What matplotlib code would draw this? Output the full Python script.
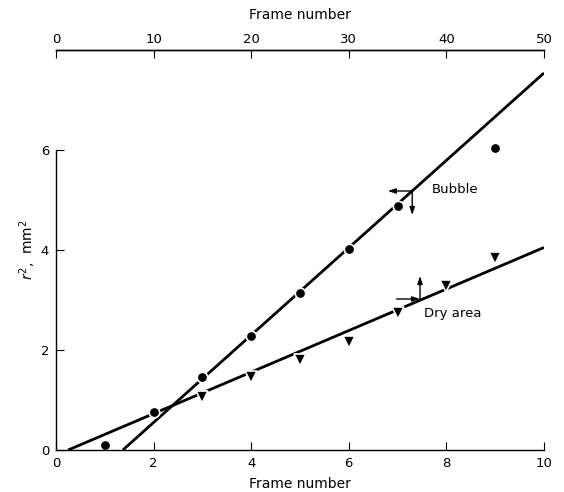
import matplotlib
matplotlib.use("Agg")
import matplotlib.pyplot as plt

# measured points
bubble_x = [1, 2, 3, 4, 5, 6, 7, 9]
bubble_r2 = [0.10, 0.76, 1.46, 2.28, 3.13, 4.02, 4.88, 6.04]
dry_x = [3, 4, 5, 6, 7, 8, 9]
dry_r2 = [1.06, 1.46, 1.80, 2.16, 2.74, 3.28, 3.84]

# fitted straight lines (end points)
bubble_fit_x = [1.37, 10]
bubble_fit_y = [0.0, 7.54]
dry_fit_x = [0.25, 10]
dry_fit_y = [0.0, 4.05]

bottom_ticks = [0, 2, 4, 6, 8, 10]
top_ticks = [0, 10, 20, 30, 40, 50]
y_ticks = [0, 2, 4, 6]

plt.rcParams['font.family'] = ['DejaVu Sans']
fig = plt.figure(figsize=(5.64, 4.92), dpi=100)
ax = fig.add_axes([0.0993, 0.0854, 0.8652, 0.8130])

ax.plot(bubble_fit_x, bubble_fit_y, color="black", lw=2.0, solid_capstyle="butt")
ax.plot(dry_fit_x, dry_fit_y, color="black", lw=2.0, solid_capstyle="butt")
ax.plot(bubble_x, bubble_r2, "o", color="black", ms=7.5, mec="white", mew=1.2, clip_on=False)
ax.plot(dry_x, dry_r2, "v", color="black", ms=9, mec="white", mew=1.2, clip_on=False)

# axis indicator arrows
akw = dict(arrowstyle="-|>,head_length=0.45,head_width=0.15", color="black", lw=1.0, shrinkA=0, shrinkB=0)
ax.annotate("", xy=(6.8, 5.18), xytext=(7.3, 5.18), arrowprops=akw)
ax.annotate("", xy=(7.3, 4.7), xytext=(7.3, 5.18), arrowprops=akw)
ax.annotate("", xy=(7.46, 3.02), xytext=(6.98, 3.02), arrowprops=akw)
ax.annotate("", xy=(7.46, 3.48), xytext=(7.46, 3.02), arrowprops=akw)
ax.text(7.7, 5.2, "Bubble", fontsize=9.5, va="center", ha="left")
ax.text(7.55, 2.73, "Dry area", fontsize=9.5, va="center", ha="left")

ax.set_xlim(0, 10)
ax.set_ylim(0, 8.0)
ax.set_xticks(bottom_ticks)
ax.set_xticklabels([str(t) for t in bottom_ticks])
ax.set_yticks(y_ticks)
ax.set_yticklabels([str(t) for t in y_ticks])
ax.spines["right"].set_visible(False)
ax.spines["left"].set_bounds(0, 6)
for s in ["left", "bottom", "top"]:
    ax.spines[s].set_linewidth(1.0)
ax.tick_params(direction="in", length=6, width=0.8, labelsize=9.5, pad=5)
ax.set_xlabel("Frame number", fontsize=10, labelpad=5)
ax.set_ylabel("$r^2$,  mm$^2$", fontsize=10, labelpad=2)

top = ax.secondary_xaxis("top", functions=(lambda v: v * 5, lambda v: v / 5))
top.set_xticks(top_ticks)
top.set_xticklabels([str(t) for t in top_ticks])
top.tick_params(direction="in", length=6, width=0.8, labelsize=9.5, pad=3)
top.spines["top"].set_linewidth(1.0)
top.set_xlabel("Frame number", fontsize=10, labelpad=10)

fig.savefig("out.png", dpi=100)
